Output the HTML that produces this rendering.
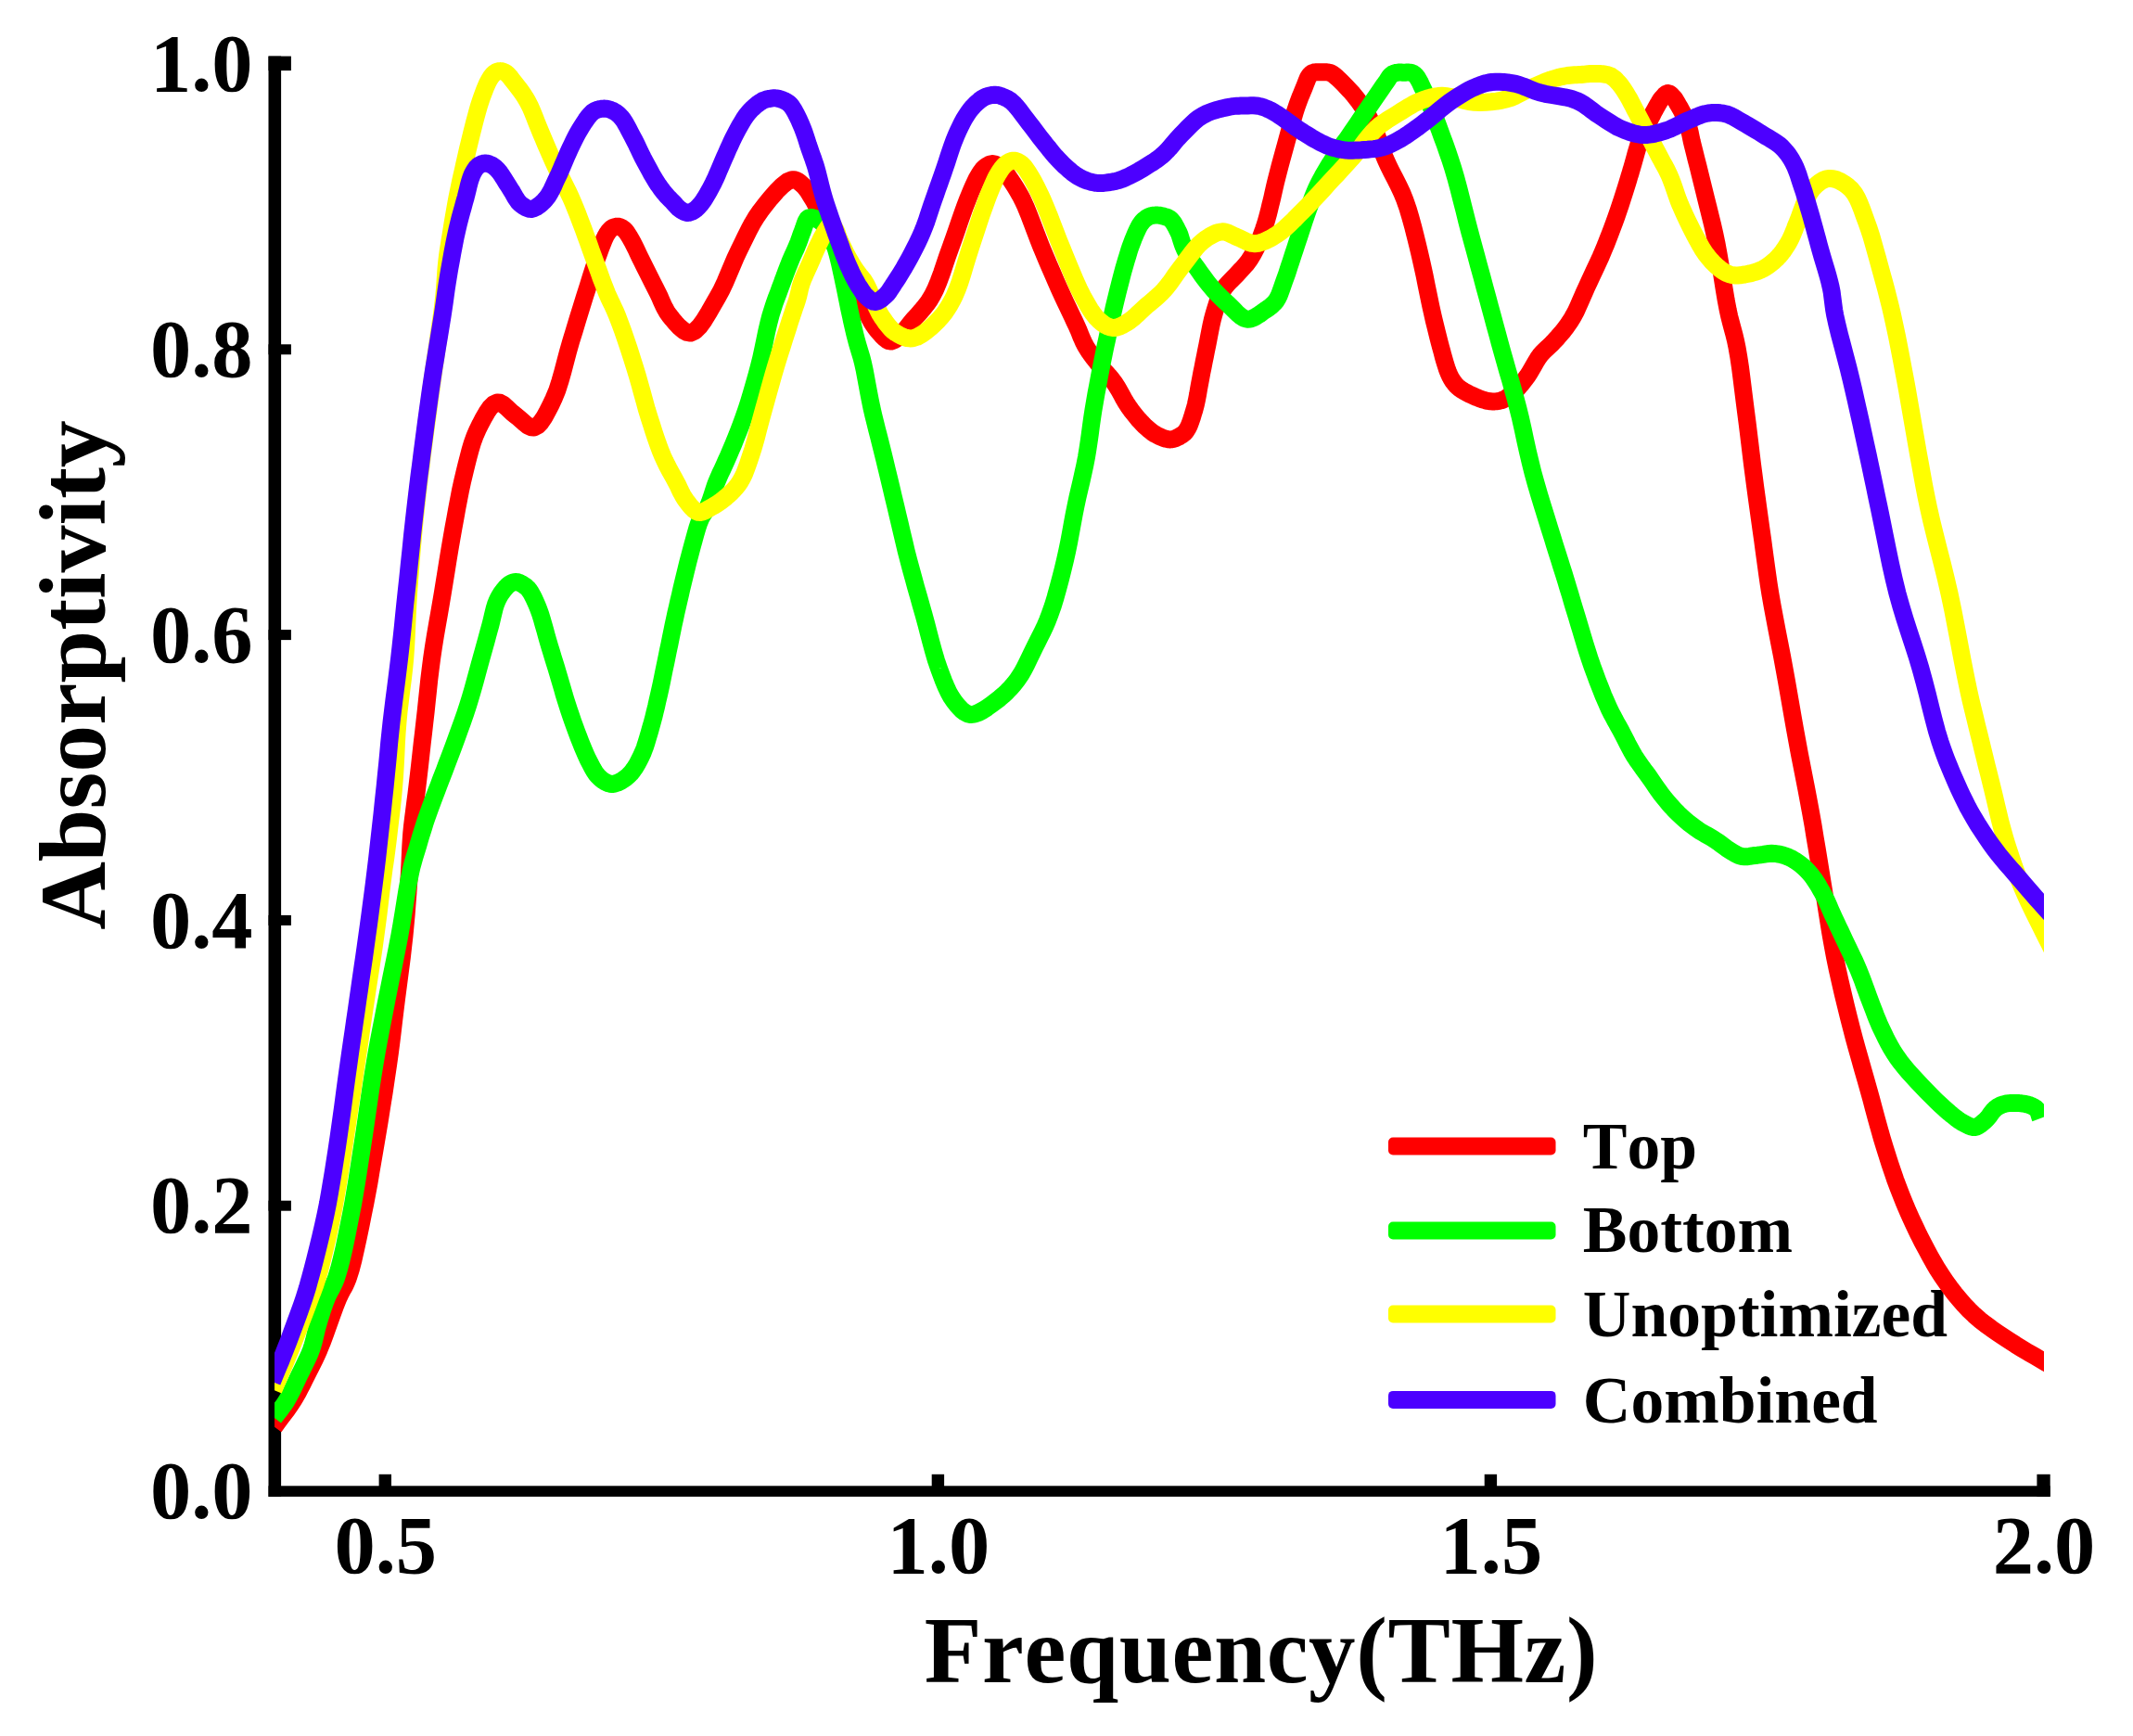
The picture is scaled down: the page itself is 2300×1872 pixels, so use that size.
<!DOCTYPE html>
<html><head><meta charset="utf-8"><title>Absorptivity</title>
<style>html,body{margin:0;padding:0;background:#fff}svg{display:block}</style>
</head><body>
<svg xmlns="http://www.w3.org/2000/svg" width="2300" height="1872" viewBox="0 0 2300 1872">
<defs><clipPath id="plot"><rect x="296.1" y="0" width="1907.9" height="1700"/></clipPath></defs>
<rect width="2300" height="1872" fill="#fff"/>
<g fill="#000">
<rect x="289.5" y="60.6" width="13.6" height="1553.3"/>
<rect x="289.5" y="1602.3" width="1921.2" height="11.6"/>
<rect x="289.5" y="60.6" width="24.4" height="15.5"/>
<rect x="289.5" y="371.3" width="24.4" height="11"/>
<rect x="289.5" y="679.1" width="24.4" height="11"/>
<rect x="289.5" y="986.9" width="24.4" height="11"/>
<rect x="289.5" y="1294.7" width="24.4" height="11"/>
<rect x="408.6" y="1589.8" width="13.4" height="20"/>
<rect x="1004.7" y="1589.8" width="13.4" height="20"/>
<rect x="1600.7" y="1589.8" width="13.4" height="20"/>
<rect x="2196.4" y="1589.8" width="14.3" height="24.1"/>
</g>
<g>
<rect x="1497" y="1226.5" width="180.5" height="19" rx="5" fill="#ff0000"/>
<rect x="1497" y="1317.5" width="180.5" height="19" rx="5" fill="#00ff00"/>
<rect x="1497" y="1407.5" width="180.5" height="19" rx="5" fill="#ffff00"/>
<rect x="1497" y="1499.9" width="180.5" height="19" rx="5" fill="#4c00ff"/>
</g>
<g font-family="'Liberation Serif','Times New Roman',serif" font-weight="bold" fill="#000" style="font-kerning:none" font-kerning="none">
<text x="1706.8" y="1260.0" font-size="71.5">Top</text>
<text x="1706.8" y="1349.8" font-size="71.5">Bottom</text>
<text x="1706.8" y="1441.3" font-size="71.5">Unoptimized</text>
<text x="1706.8" y="1533.8" font-size="71.5">Combined</text>
</g>
<g clip-path="url(#plot)" fill="none" stroke-width="19" stroke-linejoin="round" stroke-linecap="butt">
<path stroke="#ff0000" d="M295.8 1538.5 L299.2 1533.9 L302.7 1529.2 L306.2 1524.6 L309.6 1520.0 L312.9 1515.3 L316.0 1510.6 L318.7 1506.1 L321.3 1501.5 L323.7 1496.9 L326.1 1492.3 L328.4 1487.6 L330.7 1483.0 L333.0 1478.5 L335.2 1474.2 L337.4 1469.8 L339.6 1465.3 L341.8 1460.5 L344.1 1455.3 L347.5 1446.9 L351.0 1437.4 L354.6 1427.3 L358.2 1417.3 L361.6 1408.0 L364.8 1400.0 L366.7 1395.9 L368.5 1392.4 L370.3 1389.2 L372.0 1386.0 L373.7 1382.3 L375.4 1378.0 L378.3 1368.8 L381.1 1358.0 L383.8 1346.0 L386.5 1333.5 L389.1 1321.0 L391.5 1309.0 L393.8 1297.6 L395.9 1286.4 L398.0 1275.2 L399.9 1263.8 L401.9 1252.1 L404.0 1240.0 L406.5 1225.2 L409.1 1209.7 L411.6 1193.7 L414.2 1177.8 L416.5 1162.2 L418.7 1147.4 L420.4 1135.3 L421.9 1123.5 L423.3 1112.1 L424.6 1100.8 L426.0 1089.4 L427.4 1078.0 L428.9 1066.5 L430.4 1055.0 L431.9 1043.5 L433.4 1032.0 L434.7 1020.5 L436.0 1009.0 L437.1 997.3 L438.2 985.3 L439.1 973.4 L440.0 961.7 L440.8 950.5 L441.5 940.0 L441.9 932.6 L442.2 925.8 L442.5 919.2 L442.8 912.8 L443.2 906.2 L443.7 899.2 L444.5 891.0 L445.5 882.7 L446.6 874.1 L447.7 865.4 L448.9 856.5 L450.0 847.4 L451.3 836.4 L452.6 825.1 L453.9 813.4 L455.2 801.6 L456.6 789.8 L457.9 778.2 L459.2 766.8 L460.4 755.3 L461.6 743.9 L462.8 732.5 L464.2 721.1 L465.7 709.6 L467.4 697.9 L469.3 686.1 L471.3 674.3 L473.4 662.5 L475.4 650.8 L477.4 639.0 L479.3 627.2 L481.2 615.4 L483.1 603.6 L485.0 591.9 L487.0 580.3 L489.0 569.0 L490.9 558.8 L492.7 548.7 L494.6 538.7 L496.5 528.9 L498.6 519.3 L500.8 510.0 L502.8 501.7 L504.9 493.5 L507.0 485.5 L509.3 477.7 L512.0 470.3 L515.0 463.4 L518.0 457.3 L521.3 451.0 L524.8 444.9 L528.4 439.7 L532.2 435.8 L536.0 434.0 L539.2 434.3 L542.5 436.1 L545.8 438.9 L549.2 442.1 L552.6 445.3 L556.0 448.0 L559.3 450.6 L562.7 453.6 L566.1 456.6 L569.4 459.2 L572.7 460.8 L575.8 461.0 L579.6 459.1 L583.4 455.1 L587.0 449.7 L590.5 443.3 L593.9 436.6 L597.0 430.0 L600.7 421.1 L603.9 411.2 L606.9 400.7 L609.7 389.8 L612.6 378.8 L615.7 368.0 L619.3 356.4 L623.0 344.1 L626.8 331.8 L630.5 319.8 L634.0 308.8 L637.0 299.2 L638.6 294.1 L640.1 289.5 L641.5 285.3 L642.8 281.2 L644.1 277.3 L645.6 273.3 L647.0 269.5 L648.4 265.7 L649.9 261.9 L651.3 258.4 L652.8 255.2 L654.3 252.5 L655.2 251.1 L656.1 249.8 L657.0 248.6 L658.0 247.6 L658.9 246.8 L660.0 246.0 L661.0 245.4 L662.0 245.0 L663.1 244.6 L664.2 244.3 L665.3 244.2 L666.4 244.2 L667.5 244.4 L668.6 244.8 L669.8 245.3 L670.9 245.9 L672.0 246.7 L673.0 247.5 L674.3 248.8 L675.5 250.2 L676.6 251.9 L677.8 253.7 L679.0 255.6 L680.2 257.7 L682.1 261.1 L684.0 264.8 L686.0 268.9 L688.0 273.2 L690.1 277.6 L692.3 282.0 L695.0 287.5 L697.9 293.3 L700.9 299.3 L703.9 305.3 L706.9 311.1 L709.6 316.5 L711.6 320.7 L713.4 324.9 L715.2 328.9 L717.1 332.7 L719.2 336.5 L721.7 340.0 L724.9 344.0 L728.6 348.4 L732.5 352.6 L736.6 356.1 L740.7 358.4 L744.6 359.0 L749.5 356.8 L754.5 351.8 L759.4 344.9 L764.3 336.9 L769.0 328.6 L773.4 321.0 L777.8 313.0 L781.8 304.5 L785.6 295.6 L789.3 286.8 L793.0 278.0 L796.9 269.7 L800.5 262.3 L804.1 255.0 L807.7 247.8 L811.4 240.8 L815.5 234.0 L820.0 227.5 L825.2 220.7 L831.1 213.4 L837.2 206.4 L843.4 200.2 L849.1 195.8 L854.0 193.7 L856.3 193.7 L858.4 194.3 L860.4 195.4 L862.4 196.8 L864.2 198.4 L866.0 200.0 L867.9 201.9 L869.6 204.0 L871.3 206.3 L872.8 208.8 L874.4 211.4 L876.0 214.0 L877.9 217.2 L879.7 220.7 L881.6 224.3 L883.4 227.9 L885.2 231.5 L887.0 235.0 L888.7 238.2 L890.4 241.4 L892.0 244.5 L893.6 247.6 L895.3 250.8 L897.0 254.0 L898.8 257.4 L900.6 260.8 L902.5 264.2 L904.3 267.7 L906.2 271.2 L908.0 275.0 L910.2 279.7 L912.3 284.6 L914.5 289.6 L916.7 294.7 L918.8 299.9 L921.0 305.0 L923.2 310.2 L925.3 315.6 L927.4 320.9 L929.6 326.2 L931.7 331.3 L934.0 336.0 L935.9 339.7 L937.7 343.3 L939.6 346.8 L941.6 350.1 L943.7 353.1 L946.0 356.0 L948.2 358.6 L950.6 361.4 L953.1 364.0 L955.6 366.1 L958.3 367.6 L961.0 368.0 L964.9 366.6 L969.1 363.3 L973.5 358.7 L977.8 353.4 L982.1 348.1 L986.0 343.4 L989.5 339.6 L992.8 335.9 L996.0 332.1 L999.1 328.2 L1002.1 324.0 L1005.0 319.2 L1008.7 311.9 L1012.1 303.6 L1015.4 294.7 L1018.5 285.5 L1021.6 276.3 L1024.8 267.4 L1028.0 258.6 L1031.2 249.4 L1034.3 240.3 L1037.4 231.4 L1040.4 223.1 L1043.3 215.5 L1045.3 210.5 L1047.3 205.7 L1049.3 201.1 L1051.2 196.9 L1053.1 193.0 L1055.0 189.6 L1056.2 187.6 L1057.4 185.7 L1058.6 184.1 L1059.8 182.5 L1061.1 181.2 L1062.5 180.0 L1063.8 179.1 L1065.1 178.3 L1066.4 177.6 L1067.8 177.0 L1069.2 176.7 L1070.6 176.6 L1072.0 176.8 L1073.4 177.2 L1074.9 177.8 L1076.3 178.6 L1077.7 179.5 L1079.0 180.5 L1080.6 181.9 L1082.0 183.4 L1083.5 185.2 L1084.9 187.1 L1086.4 189.1 L1087.9 191.3 L1090.2 194.6 L1092.6 198.2 L1095.1 202.1 L1097.6 206.3 L1100.1 210.7 L1102.6 215.5 L1106.0 222.9 L1109.4 231.3 L1112.8 240.2 L1116.3 249.4 L1119.8 258.5 L1123.3 267.4 L1127.0 276.2 L1130.8 285.2 L1134.7 294.1 L1138.5 302.9 L1142.2 311.3 L1145.8 319.2 L1148.5 325.1 L1151.2 330.8 L1153.8 336.3 L1156.3 341.5 L1158.7 346.6 L1161.0 351.5 L1162.7 355.3 L1164.2 359.0 L1165.6 362.6 L1167.1 366.0 L1168.6 369.4 L1170.4 372.8 L1172.4 376.1 L1174.5 379.4 L1176.8 382.5 L1179.1 385.7 L1181.5 388.8 L1184.0 392.0 L1186.8 395.4 L1189.7 398.7 L1192.7 402.0 L1195.8 405.4 L1198.7 408.9 L1201.5 412.5 L1204.2 416.6 L1206.8 421.0 L1209.3 425.5 L1211.7 430.0 L1214.3 434.4 L1217.0 438.5 L1219.7 442.3 L1222.6 446.0 L1225.5 449.6 L1228.4 453.1 L1231.4 456.3 L1234.3 459.2 L1236.6 461.3 L1238.8 463.3 L1241.1 465.1 L1243.3 466.7 L1245.6 468.2 L1248.0 469.5 L1250.3 470.6 L1252.7 471.7 L1255.1 472.6 L1257.5 473.3 L1259.8 473.8 L1262.0 473.9 L1263.8 473.7 L1265.6 473.4 L1267.3 472.8 L1268.9 472.1 L1270.5 471.3 L1272.0 470.5 L1273.3 469.7 L1274.6 468.9 L1275.8 468.0 L1277.0 467.0 L1278.1 465.8 L1279.2 464.4 L1280.9 461.6 L1282.5 458.3 L1283.9 454.5 L1285.3 450.4 L1286.6 446.1 L1287.9 441.9 L1289.3 436.6 L1290.5 431.0 L1291.6 425.2 L1292.6 419.2 L1293.7 413.2 L1294.8 407.4 L1295.9 401.6 L1297.1 395.8 L1298.2 390.0 L1299.4 384.3 L1300.5 378.5 L1301.7 372.8 L1302.8 367.2 L1303.8 361.7 L1304.9 356.1 L1306.0 350.6 L1307.2 345.3 L1308.6 340.0 L1310.0 335.1 L1311.5 330.2 L1313.1 325.3 L1314.9 320.7 L1316.8 316.3 L1319.0 312.3 L1321.0 309.3 L1323.3 306.6 L1325.6 304.1 L1328.0 301.7 L1330.4 299.3 L1332.8 296.8 L1335.2 294.2 L1337.6 291.7 L1340.0 289.1 L1342.3 286.5 L1344.6 283.9 L1346.6 281.2 L1348.3 278.7 L1349.8 276.2 L1351.3 273.7 L1352.6 271.2 L1354.0 268.5 L1355.3 265.7 L1356.9 262.3 L1358.4 258.6 L1359.8 254.9 L1361.2 251.0 L1362.6 247.1 L1363.9 243.2 L1365.2 239.0 L1366.4 234.7 L1367.6 230.4 L1368.7 226.0 L1369.7 221.6 L1370.8 217.3 L1371.8 213.2 L1372.7 209.2 L1373.6 205.2 L1374.5 201.2 L1375.5 196.9 L1376.6 192.4 L1378.3 185.9 L1380.1 178.9 L1382.1 171.6 L1384.1 164.2 L1386.1 156.9 L1388.0 150.0 L1389.7 143.9 L1391.3 137.9 L1393.0 132.0 L1394.7 126.3 L1396.3 120.8 L1398.0 115.6 L1399.3 111.8 L1400.7 108.1 L1402.0 104.7 L1403.4 101.3 L1404.7 98.1 L1406.0 95.0 L1407.0 92.5 L1408.0 89.9 L1409.0 87.4 L1409.9 85.1 L1410.9 83.1 L1412.0 81.5 L1412.6 80.7 L1413.2 80.1 L1413.8 79.5 L1414.5 79.1 L1415.2 78.6 L1416.0 78.3 L1417.1 78.0 L1418.4 77.8 L1419.8 77.8 L1421.2 77.8 L1422.6 77.8 L1424.0 77.8 L1425.4 77.8 L1426.8 77.7 L1428.2 77.7 L1429.5 77.8 L1430.8 77.8 L1432.0 78.0 L1432.8 78.1 L1433.5 78.3 L1434.2 78.5 L1434.9 78.7 L1435.6 79.0 L1436.5 79.5 L1438.9 81.2 L1441.8 83.7 L1445.0 86.8 L1448.3 90.0 L1451.5 93.3 L1454.4 96.4 L1456.7 98.9 L1458.9 101.4 L1461.0 104.0 L1463.0 106.5 L1465.0 109.2 L1467.0 112.0 L1469.2 115.3 L1471.4 118.7 L1473.5 122.2 L1475.6 125.8 L1477.7 129.7 L1479.7 133.8 L1482.1 139.4 L1484.4 145.4 L1486.6 151.7 L1488.8 158.2 L1491.2 164.8 L1493.8 171.3 L1497.1 178.4 L1500.6 185.6 L1504.4 192.9 L1508.1 200.3 L1511.7 207.9 L1514.9 215.8 L1518.1 225.0 L1520.9 234.5 L1523.6 244.3 L1526.1 254.2 L1528.6 264.3 L1531.0 274.4 L1533.5 285.3 L1536.0 296.7 L1538.3 308.3 L1540.6 319.5 L1542.8 330.2 L1545.0 340.0 L1546.5 346.5 L1548.0 352.6 L1549.4 358.3 L1550.8 363.9 L1552.2 369.3 L1553.6 374.6 L1554.9 379.3 L1556.1 384.0 L1557.4 388.5 L1558.7 392.9 L1560.0 396.9 L1561.3 400.5 L1562.2 402.7 L1563.1 404.7 L1564.0 406.5 L1565.0 408.3 L1565.9 409.9 L1567.0 411.5 L1568.0 412.8 L1568.9 414.0 L1569.9 415.2 L1571.0 416.3 L1572.1 417.4 L1573.5 418.5 L1575.7 420.1 L1578.3 421.7 L1581.1 423.3 L1584.0 424.8 L1587.0 426.2 L1589.9 427.5 L1592.7 428.7 L1595.6 429.8 L1598.5 430.9 L1601.4 431.7 L1604.3 432.4 L1607.1 432.8 L1609.5 432.9 L1611.9 432.9 L1614.3 432.7 L1616.6 432.3 L1618.8 431.8 L1621.0 431.0 L1623.1 430.0 L1625.2 428.7 L1627.2 427.2 L1629.1 425.6 L1631.0 423.8 L1633.0 422.0 L1635.4 419.7 L1637.7 417.2 L1640.1 414.5 L1642.4 411.6 L1644.7 408.7 L1646.9 405.7 L1649.3 402.1 L1651.5 398.3 L1653.8 394.3 L1656.0 390.4 L1658.3 386.6 L1660.7 383.2 L1662.9 380.6 L1665.2 378.2 L1667.6 376.0 L1669.9 373.8 L1672.3 371.7 L1674.5 369.4 L1676.6 367.1 L1678.7 364.9 L1680.7 362.6 L1682.7 360.3 L1684.7 358.0 L1686.6 355.6 L1688.4 353.2 L1690.2 350.7 L1691.9 348.3 L1693.6 345.7 L1695.3 343.0 L1697.0 340.0 L1699.3 335.7 L1701.5 330.9 L1703.7 325.9 L1706.0 320.7 L1708.3 315.4 L1710.7 310.0 L1713.6 303.7 L1716.6 297.2 L1719.7 290.6 L1722.8 283.9 L1725.9 277.2 L1728.7 270.6 L1731.3 264.4 L1733.7 258.3 L1736.1 252.1 L1738.4 246.0 L1740.7 239.9 L1742.9 233.7 L1745.1 227.4 L1747.3 220.9 L1749.4 214.4 L1751.4 208.1 L1753.3 202.2 L1754.9 196.9 L1755.8 193.9 L1756.6 191.3 L1757.3 188.9 L1758.1 186.5 L1758.8 183.9 L1759.7 181.0 L1761.1 176.2 L1762.6 170.7 L1764.2 164.9 L1765.9 159.1 L1767.6 153.6 L1769.4 148.7 L1770.8 145.4 L1772.2 142.3 L1773.7 139.4 L1775.1 136.5 L1776.6 133.8 L1778.0 131.0 L1779.3 128.5 L1780.5 126.0 L1781.8 123.5 L1783.0 121.1 L1784.3 118.7 L1785.5 116.5 L1786.6 114.6 L1787.6 112.7 L1788.7 110.9 L1789.7 109.1 L1790.8 107.5 L1792.0 106.0 L1793.0 104.8 L1794.1 103.6 L1795.2 102.4 L1796.2 101.5 L1797.3 100.8 L1798.4 100.5 L1799.4 100.6 L1800.3 101.1 L1801.3 101.8 L1802.2 102.6 L1803.1 103.6 L1804.0 104.5 L1805.0 105.7 L1806.0 106.9 L1806.9 108.3 L1807.8 109.9 L1808.7 111.5 L1809.7 113.2 L1811.3 115.9 L1813.0 119.0 L1814.7 122.2 L1816.4 125.6 L1818.0 129.1 L1819.4 132.6 L1820.6 136.3 L1821.6 140.1 L1822.5 144.0 L1823.3 148.0 L1824.2 152.2 L1825.3 156.8 L1827.1 163.9 L1829.0 171.6 L1831.1 179.7 L1833.2 188.2 L1835.3 196.7 L1837.4 205.2 L1839.6 214.3 L1841.9 223.4 L1844.2 232.7 L1846.5 242.1 L1848.7 251.7 L1850.8 261.6 L1853.0 273.4 L1855.1 285.9 L1857.1 298.6 L1859.1 311.2 L1861.1 323.2 L1863.2 334.2 L1864.8 341.5 L1866.5 348.1 L1868.2 354.5 L1869.9 360.7 L1871.5 367.4 L1873.0 374.6 L1874.8 385.0 L1876.5 396.2 L1878.0 408.0 L1879.5 420.0 L1881.0 432.0 L1882.5 443.7 L1884.0 455.2 L1885.4 466.7 L1886.8 478.2 L1888.2 489.8 L1889.6 501.3 L1891.1 512.8 L1892.6 524.4 L1894.2 536.1 L1895.8 547.7 L1897.4 559.3 L1899.0 570.7 L1900.6 581.9 L1901.9 591.8 L1903.2 601.3 L1904.5 610.7 L1905.8 620.1 L1907.2 629.8 L1908.8 640.0 L1911.0 652.7 L1913.5 666.1 L1916.1 679.7 L1918.8 693.6 L1921.5 707.4 L1924.0 721.0 L1926.4 734.2 L1928.7 747.4 L1931.0 760.6 L1933.3 773.8 L1935.6 786.9 L1938.0 800.0 L1940.4 812.9 L1942.9 825.7 L1945.4 838.5 L1947.9 851.3 L1950.3 864.1 L1952.7 877.0 L1955.0 889.9 L1957.1 902.9 L1959.3 915.8 L1961.4 928.8 L1963.5 941.8 L1965.6 954.7 L1967.7 967.6 L1969.7 980.5 L1971.7 993.4 L1973.8 1006.3 L1976.1 1019.2 L1978.5 1032.0 L1981.2 1045.0 L1984.1 1058.0 L1987.1 1071.0 L1990.2 1083.9 L1993.3 1096.6 L1996.5 1109.0 L1999.4 1120.2 L2002.4 1131.1 L2005.5 1141.9 L2008.5 1152.6 L2011.6 1163.3 L2014.6 1174.0 L2017.6 1184.8 L2020.5 1195.7 L2023.4 1206.5 L2026.4 1217.3 L2029.4 1227.8 L2032.5 1238.0 L2035.3 1246.8 L2038.0 1255.4 L2040.9 1263.8 L2043.7 1272.1 L2046.8 1280.4 L2050.0 1288.7 L2053.5 1297.3 L2057.1 1305.9 L2060.9 1314.4 L2064.9 1322.9 L2068.9 1331.3 L2073.0 1339.4 L2077.0 1346.9 L2081.0 1354.4 L2085.1 1361.7 L2089.3 1368.8 L2093.8 1375.7 L2098.4 1382.5 L2103.0 1388.9 L2107.8 1395.1 L2112.8 1401.1 L2117.9 1407.0 L2123.2 1412.6 L2128.8 1418.0 L2134.7 1423.2 L2140.9 1428.0 L2147.3 1432.7 L2153.8 1437.2 L2160.4 1441.6 L2166.9 1445.9 L2173.4 1450.1 L2180.3 1454.3 L2187.2 1458.5 L2193.9 1462.3 L2199.9 1465.8 L2204.9 1468.7 L2207.1 1470.0 L2209.1 1471.1 L2210.9 1472.1 L2212.5 1473.1 L2214.2 1474.0 L2216.0 1475.0"/>
<path stroke="#00ff00" d="M295.5 1528.7 L297.8 1525.7 L300.0 1522.9 L302.3 1520.0 L304.5 1517.0 L306.8 1513.9 L308.9 1510.6 L311.3 1506.4 L313.7 1501.9 L316.0 1497.2 L318.2 1492.5 L320.5 1487.7 L322.7 1483.0 L325.0 1478.4 L327.3 1473.8 L329.5 1469.2 L331.7 1464.6 L333.8 1460.0 L335.6 1455.3 L337.1 1450.7 L338.4 1446.1 L339.5 1441.5 L340.6 1436.8 L341.7 1432.2 L343.0 1427.6 L344.4 1422.9 L345.9 1418.2 L347.3 1413.5 L348.9 1408.9 L350.5 1404.4 L352.2 1400.0 L353.8 1396.3 L355.6 1392.9 L357.3 1389.7 L359.1 1386.2 L360.9 1382.4 L362.6 1378.0 L365.4 1368.8 L368.2 1358.0 L371.0 1346.0 L373.6 1333.5 L376.1 1321.0 L378.5 1309.0 L380.7 1297.6 L382.6 1286.4 L384.5 1275.2 L386.3 1263.8 L388.1 1252.1 L390.0 1240.0 L392.3 1225.2 L394.6 1209.6 L396.9 1193.7 L399.2 1177.8 L401.6 1162.2 L404.0 1147.4 L406.1 1135.2 L408.2 1123.5 L410.4 1112.0 L412.6 1100.7 L414.8 1089.4 L417.0 1078.0 L419.3 1066.5 L421.6 1055.0 L424.0 1043.5 L426.3 1032.0 L428.6 1020.5 L430.8 1009.0 L432.9 997.2 L434.9 984.9 L436.9 972.6 L438.8 960.8 L440.8 949.8 L442.8 940.0 L444.1 934.4 L445.5 929.4 L446.8 924.7 L448.2 920.2 L449.6 915.7 L451.0 911.0 L452.4 906.2 L453.8 901.4 L455.3 896.6 L456.8 891.8 L458.3 887.0 L460.0 882.0 L462.0 876.3 L464.1 870.5 L466.3 864.7 L468.5 858.7 L470.8 852.8 L473.0 847.0 L475.1 841.4 L477.3 835.8 L479.4 830.3 L481.5 824.7 L483.7 818.9 L486.0 812.8 L489.0 804.8 L492.1 796.4 L495.3 787.6 L498.5 778.7 L501.6 769.8 L504.5 761.0 L507.2 752.3 L509.8 743.4 L512.3 734.4 L514.7 725.6 L517.0 717.1 L519.2 709.1 L520.9 702.9 L522.6 696.9 L524.2 691.1 L525.7 685.5 L527.2 680.0 L528.7 674.6 L529.9 669.9 L531.0 665.1 L532.1 660.5 L533.2 656.0 L534.5 651.8 L536.0 648.0 L537.3 645.2 L538.8 642.6 L540.3 640.1 L541.9 637.9 L543.5 635.8 L545.0 634.0 L546.0 632.9 L547.0 631.9 L548.0 631.0 L548.9 630.3 L550.0 629.6 L551.0 629.0 L552.0 628.5 L552.9 628.1 L553.9 627.8 L555.0 627.6 L556.0 627.5 L557.0 627.5 L558.2 627.7 L559.3 628.1 L560.5 628.6 L561.7 629.2 L562.9 629.8 L564.0 630.5 L565.1 631.2 L566.2 632.0 L567.3 632.8 L568.3 633.7 L569.4 634.7 L570.4 636.0 L572.2 638.6 L573.9 641.6 L575.7 645.1 L577.4 648.9 L579.1 652.8 L580.7 656.8 L582.6 662.0 L584.3 667.6 L586.0 673.5 L587.7 679.4 L589.3 685.4 L591.0 691.3 L592.7 697.1 L594.5 702.8 L596.2 708.6 L598.0 714.4 L599.8 720.1 L601.5 725.9 L603.2 731.7 L604.9 737.4 L606.6 743.2 L608.2 748.9 L610.0 754.7 L611.8 760.4 L613.7 766.2 L615.7 772.1 L617.7 778.0 L619.8 783.8 L621.9 789.5 L624.0 795.0 L625.9 799.9 L627.9 804.8 L629.9 809.6 L631.9 814.2 L633.9 818.6 L636.0 822.7 L637.6 825.7 L639.2 828.7 L640.8 831.5 L642.5 834.1 L644.4 836.4 L646.4 838.5 L648.4 840.2 L650.6 841.9 L652.9 843.3 L655.3 844.5 L657.8 845.2 L660.2 845.5 L663.0 845.1 L666.0 844.1 L669.0 842.7 L672.0 840.8 L674.9 838.7 L677.5 836.5 L680.2 833.8 L682.7 830.6 L685.1 827.2 L687.3 823.5 L689.3 819.6 L691.3 815.7 L693.4 811.0 L695.3 806.0 L697.0 800.8 L698.6 795.4 L700.2 790.0 L701.7 784.6 L703.3 779.0 L704.8 773.4 L706.2 767.6 L707.6 761.9 L708.9 756.0 L710.3 750.0 L711.8 743.3 L713.3 736.5 L714.7 729.5 L716.1 722.5 L717.6 715.5 L719.0 708.6 L720.4 701.7 L721.9 694.7 L723.3 687.7 L724.7 680.8 L726.1 673.9 L727.6 667.1 L729.0 660.6 L730.5 654.2 L731.9 647.9 L733.4 641.6 L734.8 635.3 L736.3 629.1 L737.7 623.2 L739.1 617.5 L740.5 611.7 L741.9 606.0 L743.4 600.3 L744.9 594.6 L746.5 588.6 L748.2 582.4 L749.9 576.3 L751.6 570.3 L753.4 564.8 L755.3 560.0 L756.6 557.3 L758.0 555.0 L759.4 552.9 L760.8 550.8 L762.2 548.6 L763.5 546.0 L765.1 542.1 L766.6 537.9 L768.1 533.4 L769.6 528.8 L771.1 524.2 L772.8 519.7 L774.7 515.2 L776.7 510.7 L778.8 506.3 L780.9 501.7 L783.0 497.0 L785.2 492.1 L787.9 485.8 L790.7 479.2 L793.5 472.3 L796.3 465.3 L799.1 458.0 L801.8 450.6 L804.8 441.9 L807.7 432.8 L810.5 423.5 L813.2 414.1 L815.9 404.6 L818.4 395.3 L820.7 386.0 L822.8 376.4 L824.8 366.8 L826.7 357.5 L828.8 348.5 L831.0 340.0 L833.0 333.6 L835.0 327.4 L837.1 321.5 L839.3 315.8 L841.3 310.3 L843.3 305.0 L844.8 300.8 L846.3 296.9 L847.7 293.0 L849.1 289.3 L850.6 285.6 L852.0 282.0 L853.3 278.8 L854.7 275.7 L856.1 272.6 L857.5 269.6 L858.8 266.6 L860.0 263.7 L861.0 261.2 L861.9 258.7 L862.8 256.2 L863.6 253.8 L864.5 251.4 L865.5 249.0 L866.4 246.4 L867.3 243.6 L868.3 240.8 L869.3 238.3 L870.5 236.3 L872.0 235.0 L873.6 234.6 L875.4 234.6 L877.3 235.0 L879.3 235.7 L881.2 236.5 L883.0 237.5 L884.9 238.9 L886.7 240.6 L888.4 242.6 L890.1 244.7 L891.6 246.9 L893.0 249.0 L894.2 251.1 L895.3 253.2 L896.3 255.4 L897.3 257.6 L898.1 259.8 L899.0 262.0 L899.8 263.9 L900.4 265.8 L901.1 267.6 L901.7 269.6 L902.3 271.7 L903.0 274.0 L904.1 278.3 L905.3 283.2 L906.5 288.6 L907.7 294.1 L908.9 299.7 L910.0 305.0 L911.1 310.2 L912.2 315.5 L913.2 320.7 L914.3 326.0 L915.3 331.2 L916.4 336.3 L917.5 341.2 L918.5 346.0 L919.6 350.8 L920.7 355.6 L921.8 360.3 L923.0 365.0 L924.2 369.4 L925.4 373.6 L926.7 377.9 L928.0 382.2 L929.3 386.7 L930.5 391.6 L932.1 398.8 L933.6 406.7 L935.1 414.9 L936.7 423.4 L938.3 431.8 L940.0 440.0 L941.8 447.8 L943.7 455.5 L945.6 463.2 L947.6 470.9 L949.6 478.8 L951.6 486.9 L953.9 496.3 L956.2 505.9 L958.6 515.8 L961.0 525.7 L963.3 535.7 L965.7 545.5 L968.0 555.3 L970.3 565.0 L972.6 574.8 L974.9 584.5 L977.2 594.3 L979.7 604.0 L982.3 613.8 L985.0 623.6 L987.7 633.4 L990.5 643.2 L993.2 652.9 L996.0 662.7 L998.7 672.6 L1001.3 682.7 L1004.0 692.9 L1006.7 702.7 L1009.5 712.2 L1012.5 721.0 L1015.0 727.7 L1017.5 734.3 L1020.1 740.5 L1022.8 746.4 L1025.8 751.7 L1029.0 756.4 L1031.6 759.7 L1034.3 762.8 L1037.2 765.7 L1040.1 768.0 L1043.2 769.7 L1046.5 770.5 L1050.6 770.1 L1055.1 768.5 L1059.8 766.0 L1064.6 762.9 L1069.2 759.6 L1073.5 756.4 L1077.8 753.1 L1081.9 749.6 L1085.9 745.8 L1089.8 741.7 L1093.5 737.5 L1097.0 733.0 L1100.6 727.7 L1103.9 722.0 L1106.9 716.1 L1109.9 709.9 L1112.8 703.8 L1115.7 697.8 L1118.6 692.1 L1121.4 686.5 L1124.2 680.9 L1126.9 675.2 L1129.5 669.2 L1132.0 662.7 L1135.1 653.9 L1138.0 644.4 L1140.8 634.4 L1143.5 624.2 L1146.1 614.0 L1148.5 604.0 L1150.7 594.2 L1152.7 584.4 L1154.5 574.6 L1156.3 564.8 L1158.1 555.1 L1160.0 545.5 L1161.9 536.6 L1163.9 527.8 L1166.0 519.0 L1167.9 510.4 L1169.8 501.7 L1171.5 493.0 L1172.9 484.5 L1174.2 475.9 L1175.4 467.4 L1176.5 458.9 L1177.7 450.4 L1179.0 441.9 L1180.5 433.2 L1182.0 424.4 L1183.7 415.6 L1185.3 406.9 L1186.9 398.5 L1188.5 390.5 L1189.8 384.2 L1191.0 378.2 L1192.2 372.3 L1193.5 366.6 L1194.7 360.8 L1196.0 355.0 L1197.3 349.1 L1198.6 343.3 L1199.9 337.5 L1201.2 331.6 L1202.6 325.8 L1204.0 320.0 L1205.4 314.2 L1206.9 308.3 L1208.4 302.5 L1209.9 296.7 L1211.4 291.0 L1213.0 285.5 L1214.4 280.6 L1215.9 275.8 L1217.3 271.1 L1218.8 266.6 L1220.4 262.2 L1222.0 258.0 L1223.4 254.6 L1224.8 251.3 L1226.3 248.1 L1227.8 245.1 L1229.3 242.3 L1231.0 240.0 L1232.2 238.5 L1233.5 237.2 L1234.9 236.1 L1236.2 235.1 L1237.6 234.2 L1239.0 233.5 L1240.2 233.0 L1241.5 232.6 L1242.7 232.4 L1244.0 232.2 L1245.2 232.1 L1246.5 232.0 L1247.7 232.0 L1249.0 232.1 L1250.2 232.2 L1251.5 232.4 L1252.8 232.7 L1254.0 233.0 L1255.4 233.4 L1256.7 233.7 L1258.1 234.2 L1259.4 234.7 L1260.8 235.4 L1262.0 236.3 L1263.6 237.9 L1265.2 240.0 L1266.6 242.3 L1268.0 244.8 L1269.3 247.4 L1270.6 250.0 L1271.9 252.9 L1272.9 256.1 L1273.9 259.3 L1274.9 262.5 L1276.1 265.8 L1277.5 269.0 L1279.4 272.5 L1281.6 276.0 L1283.9 279.5 L1286.3 283.0 L1288.8 286.5 L1291.3 289.9 L1293.8 293.4 L1296.3 297.0 L1298.9 300.5 L1301.5 303.9 L1304.2 307.3 L1306.9 310.6 L1309.6 313.7 L1312.4 316.6 L1315.3 319.5 L1318.2 322.3 L1321.1 325.1 L1324.2 327.9 L1327.5 331.1 L1330.9 334.5 L1334.3 338.0 L1337.9 341.0 L1341.4 343.2 L1344.9 344.3 L1348.1 344.1 L1351.4 342.9 L1354.7 341.1 L1358.0 339.0 L1361.0 336.8 L1363.9 334.8 L1366.2 333.3 L1368.4 331.7 L1370.5 330.1 L1372.4 328.4 L1374.3 326.5 L1376.0 324.4 L1377.8 321.5 L1379.4 318.3 L1380.7 314.8 L1382.0 311.1 L1383.3 307.4 L1384.6 303.7 L1386.1 299.6 L1387.6 295.3 L1389.0 291.0 L1390.4 286.6 L1391.9 282.2 L1393.3 277.8 L1394.7 273.5 L1396.2 269.1 L1397.6 264.8 L1399.0 260.5 L1400.5 256.1 L1401.9 251.8 L1403.3 247.5 L1404.7 243.2 L1406.1 238.8 L1407.6 234.5 L1409.1 230.2 L1410.6 225.9 L1412.2 221.6 L1413.8 217.3 L1415.4 213.0 L1417.1 208.7 L1419.0 204.3 L1421.0 200.0 L1423.4 195.2 L1426.0 190.4 L1428.8 185.6 L1431.6 180.8 L1434.5 176.0 L1437.5 171.3 L1440.5 166.7 L1443.7 162.1 L1446.9 157.6 L1450.1 153.0 L1453.4 148.5 L1456.7 143.8 L1460.2 138.7 L1463.7 133.5 L1467.3 128.2 L1470.9 122.9 L1474.4 117.8 L1477.8 112.8 L1480.9 108.3 L1484.0 103.8 L1487.1 99.3 L1490.1 95.0 L1492.7 91.2 L1495.0 88.0 L1496.0 86.5 L1496.8 85.2 L1497.6 84.0 L1498.3 82.9 L1499.1 81.9 L1500.0 81.0 L1500.8 80.4 L1501.5 79.9 L1502.3 79.4 L1503.2 79.1 L1504.0 78.8 L1505.0 78.5 L1506.3 78.3 L1507.8 78.1 L1509.3 78.1 L1510.9 78.1 L1512.5 78.2 L1514.0 78.2 L1515.4 78.2 L1516.8 78.1 L1518.2 78.1 L1519.5 78.1 L1520.8 78.2 L1522.0 78.5 L1522.9 78.9 L1523.8 79.3 L1524.6 79.8 L1525.4 80.4 L1526.2 81.1 L1527.0 82.0 L1528.4 83.8 L1529.7 86.1 L1531.1 88.6 L1532.4 91.4 L1533.7 94.2 L1535.0 96.9 L1536.4 99.8 L1537.8 102.8 L1539.1 105.8 L1540.4 108.8 L1541.7 111.9 L1543.0 115.0 L1544.2 118.0 L1545.3 120.9 L1546.4 123.8 L1547.5 126.9 L1548.7 130.2 L1550.0 133.8 L1552.4 140.3 L1555.0 147.5 L1557.9 155.2 L1560.8 163.5 L1563.7 172.0 L1566.5 180.6 L1569.7 191.5 L1572.8 203.0 L1575.8 214.9 L1578.9 227.0 L1581.9 239.1 L1585.0 251.0 L1588.2 262.8 L1591.4 274.6 L1594.6 286.4 L1597.8 298.1 L1600.9 309.7 L1604.0 321.0 L1606.7 331.1 L1609.4 341.0 L1612.0 350.8 L1614.7 360.5 L1617.3 370.2 L1620.0 380.0 L1622.8 389.9 L1625.6 399.8 L1628.5 409.7 L1631.3 419.6 L1634.1 429.7 L1636.8 440.0 L1639.6 451.3 L1642.2 462.9 L1644.7 474.7 L1647.3 486.5 L1650.1 498.3 L1653.0 510.0 L1656.3 521.9 L1659.8 533.9 L1663.5 546.0 L1667.2 557.8 L1670.7 569.2 L1674.1 580.0 L1676.6 588.2 L1679.1 596.1 L1681.5 603.7 L1683.8 611.1 L1686.2 618.5 L1688.5 626.1 L1690.8 633.8 L1693.2 641.5 L1695.4 649.2 L1697.7 656.8 L1700.1 664.5 L1702.4 672.2 L1704.7 679.9 L1707.0 687.6 L1709.3 695.2 L1711.7 702.9 L1714.2 710.6 L1716.8 718.2 L1719.7 726.1 L1722.7 734.2 L1725.9 742.3 L1729.0 750.2 L1732.2 757.6 L1735.2 764.3 L1737.3 768.7 L1739.4 772.6 L1741.4 776.4 L1743.4 780.0 L1745.5 783.7 L1747.6 787.6 L1750.0 792.1 L1752.4 796.8 L1754.8 801.6 L1757.3 806.3 L1759.8 810.9 L1762.4 815.3 L1764.9 819.2 L1767.5 822.9 L1770.1 826.6 L1772.7 830.2 L1775.4 833.8 L1778.0 837.4 L1780.6 841.1 L1783.1 844.8 L1785.7 848.6 L1788.3 852.3 L1790.9 855.9 L1793.7 859.5 L1796.6 863.0 L1799.6 866.6 L1802.7 870.1 L1805.8 873.4 L1809.0 876.7 L1812.2 879.8 L1815.2 882.5 L1818.2 885.1 L1821.3 887.7 L1824.4 890.1 L1827.5 892.4 L1830.6 894.6 L1833.6 896.6 L1836.7 898.4 L1839.8 900.2 L1842.9 901.9 L1845.9 903.7 L1849.0 905.6 L1852.2 907.7 L1855.3 910.0 L1858.5 912.4 L1861.6 914.7 L1864.7 916.7 L1867.5 918.5 L1869.4 919.6 L1871.2 920.7 L1873.0 921.6 L1874.7 922.4 L1876.5 923.0 L1878.5 923.5 L1881.0 923.7 L1883.7 923.7 L1886.5 923.4 L1889.4 922.9 L1892.2 922.5 L1895.1 922.2 L1898.1 921.8 L1901.2 921.4 L1904.3 920.9 L1907.4 920.5 L1910.4 920.3 L1913.5 920.4 L1916.6 920.8 L1919.8 921.4 L1922.9 922.2 L1926.0 923.2 L1929.0 924.5 L1932.0 925.9 L1935.2 927.8 L1938.5 929.9 L1941.6 932.3 L1944.7 934.9 L1947.6 937.7 L1950.4 940.6 L1953.2 943.9 L1955.8 947.4 L1958.3 951.1 L1960.7 954.9 L1962.9 958.8 L1965.2 962.8 L1967.5 967.2 L1969.7 971.7 L1971.8 976.4 L1973.8 981.1 L1975.9 985.8 L1978.0 990.4 L1980.2 995.0 L1982.3 999.6 L1984.5 1004.2 L1986.7 1008.8 L1988.8 1013.4 L1991.0 1018.0 L1993.2 1022.6 L1995.3 1027.1 L1997.5 1031.6 L1999.7 1036.2 L2001.8 1040.9 L2003.9 1045.7 L2006.1 1051.2 L2008.3 1056.9 L2010.4 1062.8 L2012.6 1068.6 L2014.7 1074.4 L2016.8 1080.0 L2018.7 1085.0 L2020.6 1089.9 L2022.4 1094.7 L2024.3 1099.4 L2026.3 1104.2 L2028.5 1109.0 L2031.0 1114.2 L2033.5 1119.4 L2036.2 1124.6 L2039.1 1129.8 L2042.2 1135.0 L2045.5 1140.0 L2049.4 1145.3 L2053.6 1150.6 L2058.0 1155.8 L2062.6 1160.9 L2067.3 1166.0 L2072.0 1171.0 L2076.9 1176.1 L2082.1 1181.4 L2087.3 1186.6 L2092.5 1191.5 L2097.4 1196.0 L2102.0 1200.0 L2104.9 1202.4 L2107.7 1204.6 L2110.3 1206.6 L2112.9 1208.5 L2115.5 1210.1 L2118.0 1211.5 L2120.0 1212.5 L2121.9 1213.6 L2123.8 1214.4 L2125.7 1215.1 L2127.5 1215.5 L2129.4 1215.5 L2131.4 1215.0 L2133.4 1214.0 L2135.3 1212.8 L2137.3 1211.2 L2139.2 1209.6 L2141.0 1208.0 L2142.9 1206.0 L2144.8 1203.7 L2146.5 1201.3 L2148.3 1198.9 L2150.1 1196.8 L2152.0 1195.0 L2153.6 1193.9 L2155.2 1192.9 L2156.8 1192.1 L2158.5 1191.4 L2160.2 1190.8 L2162.0 1190.3 L2164.0 1189.9 L2166.2 1189.6 L2168.4 1189.4 L2170.6 1189.4 L2172.8 1189.4 L2175.0 1189.5 L2177.2 1189.6 L2179.5 1189.8 L2181.7 1190.1 L2183.9 1190.4 L2186.0 1190.9 L2188.0 1191.5 L2189.6 1192.1 L2191.2 1192.8 L2192.7 1193.5 L2194.1 1194.4 L2195.4 1195.4 L2196.5 1196.5 L2197.4 1197.8 L2198.1 1199.3 L2198.7 1201.0 L2199.2 1202.7 L2199.7 1204.4 L2200.3 1206.0"/>
<path stroke="#ffff00" d="M294.9 1498.8 L297.9 1491.6 L301.0 1484.5 L304.0 1477.4 L307.1 1470.2 L310.1 1462.9 L313.2 1455.3 L316.8 1446.2 L320.6 1436.5 L324.4 1426.5 L328.1 1416.8 L331.5 1407.9 L334.4 1400.0 L335.9 1395.9 L337.3 1392.4 L338.5 1389.2 L339.7 1385.9 L340.9 1382.3 L342.2 1378.0 L344.8 1368.8 L347.6 1357.9 L350.5 1346.0 L353.4 1333.5 L356.1 1321.0 L358.6 1309.0 L360.8 1297.6 L362.8 1286.4 L364.7 1275.2 L366.5 1263.8 L368.3 1252.1 L370.2 1240.0 L372.5 1225.2 L374.9 1209.7 L377.3 1193.7 L379.7 1177.8 L382.0 1162.2 L384.2 1147.4 L386.0 1135.3 L387.8 1123.5 L389.4 1112.1 L391.1 1100.7 L392.8 1089.4 L394.5 1078.0 L396.2 1066.5 L398.0 1055.0 L399.8 1043.5 L401.6 1032.0 L403.3 1020.5 L404.9 1009.0 L406.5 997.1 L408.1 984.7 L409.6 972.2 L411.0 960.3 L412.4 949.4 L413.6 940.0 L414.2 935.5 L414.8 931.7 L415.3 928.3 L415.8 924.8 L416.3 921.0 L416.9 916.5 L418.1 907.1 L419.4 896.2 L420.8 884.2 L422.3 871.8 L423.6 859.4 L424.7 847.4 L425.6 835.9 L426.3 824.3 L426.9 812.8 L427.4 801.3 L428.1 789.7 L429.0 778.2 L430.1 766.7 L431.5 755.2 L432.9 743.6 L434.4 732.1 L435.7 720.6 L436.8 709.1 L437.6 697.7 L438.2 686.4 L438.7 675.2 L439.2 663.8 L439.8 652.1 L440.5 640.0 L441.6 625.2 L442.8 609.6 L444.1 593.7 L445.5 577.8 L447.0 562.2 L448.5 547.4 L449.8 535.3 L451.2 523.6 L452.6 512.2 L454.1 500.9 L455.5 489.6 L457.0 478.2 L458.5 466.7 L460.0 455.2 L461.6 443.6 L463.1 432.1 L464.7 420.6 L466.3 409.1 L468.0 397.2 L469.8 384.7 L471.7 372.2 L473.4 360.3 L475.0 349.4 L476.3 340.0 L476.9 335.5 L477.4 331.6 L477.8 328.0 L478.2 324.6 L478.6 321.0 L479.0 317.0 L479.5 311.6 L479.9 305.9 L480.3 299.9 L480.7 293.9 L481.2 287.9 L481.8 282.0 L482.5 276.2 L483.3 270.4 L484.2 264.7 L485.1 258.9 L486.1 253.2 L487.0 247.4 L487.9 241.6 L488.9 235.9 L489.9 230.1 L490.9 224.3 L491.9 218.6 L493.0 212.8 L494.2 207.0 L495.4 201.3 L496.6 195.5 L497.9 189.7 L499.2 184.0 L500.5 178.2 L501.8 172.4 L503.1 166.7 L504.4 160.9 L505.8 155.2 L507.2 149.4 L508.6 143.7 L510.1 137.8 L511.6 131.9 L513.2 125.9 L514.8 120.0 L516.4 114.4 L518.1 109.1 L519.5 105.0 L521.0 100.9 L522.5 97.0 L524.0 93.3 L525.5 89.9 L527.0 87.0 L528.0 85.3 L528.9 83.8 L529.9 82.3 L530.9 81.1 L531.9 80.0 L533.0 79.0 L534.0 78.3 L535.0 77.7 L536.1 77.3 L537.2 76.9 L538.3 76.7 L539.4 76.6 L540.5 76.7 L541.6 76.9 L542.7 77.3 L543.9 77.7 L544.9 78.3 L546.0 79.0 L547.2 80.0 L548.3 81.1 L549.4 82.4 L550.6 83.8 L551.7 85.3 L553.0 87.0 L555.3 89.9 L557.9 93.3 L560.7 96.9 L563.5 100.8 L566.2 104.9 L568.7 109.1 L571.4 114.3 L573.9 120.0 L576.3 125.8 L578.6 131.8 L581.0 137.8 L583.4 143.7 L585.9 149.5 L588.3 155.2 L590.8 161.0 L593.3 166.7 L595.9 172.5 L598.5 178.2 L601.3 184.0 L604.1 189.7 L607.0 195.5 L609.9 201.2 L612.7 207.0 L615.4 212.8 L617.9 218.5 L620.3 224.3 L622.6 230.1 L624.8 235.8 L627.0 241.6 L629.2 247.4 L631.3 253.2 L633.4 258.9 L635.5 264.7 L637.5 270.5 L639.6 276.2 L641.7 282.0 L643.8 287.8 L646.0 293.8 L648.1 299.7 L650.3 305.5 L652.5 311.2 L654.6 316.5 L656.4 320.6 L658.1 324.3 L659.9 327.9 L661.6 331.6 L663.4 335.5 L665.3 340.0 L668.3 347.8 L671.5 356.6 L674.8 366.1 L678.1 375.9 L681.3 385.8 L684.3 395.3 L687.1 404.6 L689.8 414.0 L692.4 423.4 L695.0 432.8 L697.5 441.9 L700.2 450.6 L702.6 458.0 L704.9 465.3 L707.2 472.3 L709.6 479.2 L712.1 485.8 L714.7 492.1 L717.0 497.1 L719.4 502.0 L721.8 506.6 L724.3 511.1 L726.7 515.4 L729.0 519.7 L730.9 523.3 L732.6 527.0 L734.3 530.5 L736.1 533.9 L737.9 537.0 L740.0 540.0 L742.0 542.6 L744.0 545.2 L746.2 547.7 L748.4 549.8 L750.7 551.4 L753.0 552.3 L755.2 552.4 L757.5 551.9 L759.9 550.9 L762.3 549.7 L764.6 548.3 L767.0 547.0 L769.7 545.5 L772.4 543.9 L775.1 542.1 L777.8 540.2 L780.4 538.1 L783.0 536.0 L785.7 533.6 L788.3 531.2 L790.9 528.6 L793.4 525.9 L795.8 522.9 L798.0 519.7 L800.4 515.4 L802.6 510.8 L804.5 505.8 L806.4 500.7 L808.2 495.4 L810.0 490.0 L812.0 483.9 L813.8 477.6 L815.6 471.1 L817.3 464.5 L819.1 457.6 L821.0 450.6 L823.4 441.8 L826.0 432.5 L828.6 423.0 L831.3 413.4 L833.9 404.1 L836.5 395.3 L838.7 388.0 L841.0 380.7 L843.3 373.5 L845.4 366.7 L847.4 360.5 L849.2 355.0 L850.1 352.1 L850.9 349.5 L851.7 347.1 L852.4 344.8 L853.2 342.5 L854.0 340.0 L855.0 337.1 L856.0 334.1 L857.0 331.1 L858.1 328.0 L859.1 325.0 L860.0 322.0 L860.8 319.2 L861.4 316.4 L862.1 313.6 L862.7 310.8 L863.5 307.9 L864.4 305.0 L865.7 301.4 L867.3 297.8 L868.9 294.1 L870.7 290.3 L872.4 286.6 L874.0 283.0 L875.4 279.7 L876.8 276.4 L878.2 273.1 L879.6 269.9 L881.0 266.8 L882.5 263.7 L883.9 260.9 L885.3 258.0 L886.7 255.2 L888.2 252.6 L889.6 250.1 L891.0 248.0 L891.9 246.6 L892.9 245.3 L893.8 244.0 L894.7 242.9 L895.6 242.2 L896.5 242.0 L897.3 242.3 L898.1 243.1 L898.9 244.1 L899.6 245.4 L900.3 246.7 L901.0 248.0 L901.7 249.5 L902.4 251.1 L902.9 252.8 L903.5 254.6 L904.2 256.5 L905.0 258.5 L906.5 261.7 L908.2 265.3 L910.1 269.2 L912.0 273.0 L914.0 276.7 L915.8 280.0 L917.2 282.4 L918.5 284.6 L919.9 286.8 L921.2 288.9 L922.6 290.9 L924.0 293.0 L925.5 295.0 L927.0 297.0 L928.6 298.9 L930.1 300.8 L931.6 302.8 L933.0 305.0 L934.4 307.6 L935.8 310.3 L937.1 313.2 L938.3 316.1 L939.6 319.0 L941.0 322.0 L942.5 325.3 L944.1 328.7 L945.6 332.1 L947.3 335.5 L949.0 338.8 L951.0 342.0 L953.2 345.1 L955.4 348.3 L957.9 351.4 L960.4 354.3 L963.1 356.9 L966.0 359.0 L968.8 360.7 L971.7 362.3 L974.8 363.6 L978.0 364.5 L981.2 364.9 L984.4 364.7 L988.9 363.3 L993.7 360.7 L998.6 357.3 L1003.4 353.3 L1007.9 349.1 L1012.0 345.0 L1015.4 341.2 L1018.5 337.3 L1021.3 333.2 L1024.0 328.9 L1026.6 324.2 L1029.1 319.2 L1032.3 311.7 L1035.3 303.4 L1038.1 294.6 L1040.8 285.4 L1043.6 276.3 L1046.4 267.4 L1049.3 258.6 L1052.3 249.5 L1055.3 240.4 L1058.2 231.5 L1061.2 223.2 L1064.0 215.5 L1066.0 210.2 L1068.0 205.2 L1070.0 200.4 L1072.0 195.9 L1073.9 191.7 L1076.0 188.0 L1077.5 185.6 L1078.9 183.4 L1080.4 181.3 L1081.9 179.5 L1083.4 177.9 L1085.0 176.5 L1086.3 175.6 L1087.6 174.8 L1088.9 174.1 L1090.3 173.6 L1091.7 173.3 L1093.0 173.2 L1094.3 173.3 L1095.7 173.6 L1097.1 174.1 L1098.4 174.8 L1099.7 175.6 L1101.0 176.5 L1102.6 177.9 L1104.1 179.5 L1105.6 181.4 L1107.0 183.4 L1108.5 185.6 L1110.0 188.0 L1112.3 191.7 L1114.6 195.9 L1117.0 200.4 L1119.3 205.2 L1121.8 210.2 L1124.2 215.5 L1127.5 223.2 L1130.9 231.5 L1134.3 240.4 L1137.8 249.5 L1141.3 258.6 L1144.9 267.4 L1148.5 276.3 L1152.2 285.4 L1156.0 294.5 L1159.8 303.4 L1163.6 311.7 L1167.4 319.2 L1170.2 324.3 L1173.0 329.2 L1175.7 333.8 L1178.6 338.0 L1181.5 341.8 L1184.6 345.0 L1187.0 347.1 L1189.6 349.1 L1192.1 350.8 L1194.8 352.1 L1197.4 353.0 L1200.0 353.5 L1202.5 353.4 L1204.9 352.9 L1207.4 352.0 L1209.9 350.9 L1212.4 349.5 L1215.0 348.0 L1218.5 345.7 L1222.1 342.8 L1225.8 339.5 L1229.4 336.1 L1233.0 332.8 L1236.5 329.6 L1239.7 326.9 L1242.9 324.2 L1246.0 321.6 L1249.0 318.9 L1252.0 316.1 L1255.0 313.0 L1258.2 309.3 L1261.2 305.4 L1264.2 301.2 L1267.1 297.0 L1270.2 292.7 L1273.4 288.5 L1277.1 283.6 L1280.9 278.5 L1284.8 273.3 L1288.8 268.3 L1292.8 263.8 L1297.0 260.0 L1300.4 257.4 L1303.9 255.1 L1307.5 253.1 L1311.1 251.4 L1314.6 250.3 L1318.0 249.8 L1320.8 250.0 L1323.4 250.8 L1326.0 251.9 L1328.6 253.2 L1331.3 254.5 L1334.0 255.7 L1337.1 257.0 L1340.1 258.5 L1343.3 260.1 L1346.5 261.4 L1349.7 262.4 L1353.0 262.7 L1356.8 262.3 L1360.7 261.2 L1364.7 259.6 L1368.7 257.7 L1372.7 255.4 L1376.6 253.0 L1381.3 249.7 L1386.0 245.8 L1390.6 241.5 L1395.3 237.0 L1400.0 232.2 L1404.7 227.5 L1410.2 222.0 L1415.7 216.1 L1421.4 210.0 L1426.9 204.0 L1432.3 198.0 L1437.5 192.4 L1441.7 187.9 L1445.7 183.6 L1449.6 179.4 L1453.4 175.2 L1457.2 171.0 L1461.0 166.6 L1464.8 161.9 L1468.6 157.0 L1472.3 152.0 L1476.1 147.2 L1480.0 142.6 L1484.0 138.5 L1487.8 135.2 L1491.7 132.3 L1495.7 129.6 L1499.8 127.0 L1503.9 124.5 L1507.9 122.0 L1511.7 119.6 L1515.5 117.2 L1519.3 114.9 L1523.2 112.7 L1527.0 110.7 L1531.0 109.0 L1534.8 107.5 L1538.7 106.2 L1542.6 105.1 L1546.6 104.2 L1550.7 103.6 L1555.0 103.3 L1560.4 103.7 L1566.2 104.9 L1572.1 106.5 L1578.1 108.2 L1584.1 109.6 L1590.0 110.3 L1595.9 110.4 L1602.0 110.3 L1608.0 109.8 L1613.9 109.1 L1619.6 108.1 L1625.0 106.8 L1629.3 105.4 L1633.3 103.7 L1637.1 101.8 L1640.9 99.8 L1644.6 97.8 L1648.5 96.0 L1652.4 94.2 L1656.4 92.4 L1660.4 90.6 L1664.4 88.9 L1668.2 87.4 L1672.0 86.0 L1675.1 85.0 L1678.2 84.1 L1681.2 83.3 L1684.2 82.6 L1687.1 82.0 L1690.0 81.5 L1692.6 81.2 L1695.2 81.0 L1697.7 80.8 L1700.2 80.7 L1702.6 80.6 L1705.0 80.5 L1706.9 80.3 L1708.8 80.1 L1710.6 79.9 L1712.4 79.7 L1714.2 79.6 L1716.0 79.5 L1718.0 79.4 L1720.0 79.4 L1722.1 79.4 L1724.1 79.5 L1726.1 79.6 L1728.0 79.8 L1729.6 80.0 L1731.2 80.2 L1732.7 80.5 L1734.2 80.9 L1735.6 81.4 L1737.0 82.0 L1738.4 82.9 L1739.8 83.9 L1741.2 85.0 L1742.5 86.3 L1743.7 87.6 L1745.0 89.0 L1746.4 90.6 L1747.8 92.3 L1749.1 94.2 L1750.5 96.1 L1751.8 98.1 L1753.2 100.3 L1755.1 103.5 L1757.1 106.9 L1759.0 110.6 L1761.0 114.4 L1763.0 118.3 L1765.0 122.0 L1767.0 125.8 L1769.0 129.6 L1771.0 133.5 L1773.0 137.3 L1775.0 141.2 L1777.0 145.0 L1779.0 148.8 L1781.0 152.7 L1783.0 156.6 L1785.0 160.4 L1787.0 164.2 L1789.0 168.0 L1790.9 171.5 L1792.7 174.9 L1794.6 178.2 L1796.4 181.6 L1798.2 185.2 L1800.0 189.0 L1802.0 193.9 L1804.0 199.2 L1805.9 204.7 L1807.8 210.3 L1809.8 215.9 L1812.0 221.3 L1814.4 226.8 L1817.0 232.4 L1819.6 238.0 L1822.3 243.5 L1824.9 248.7 L1827.4 253.5 L1829.2 257.0 L1831.0 260.2 L1832.7 263.4 L1834.4 266.3 L1836.1 269.2 L1838.0 272.0 L1839.7 274.4 L1841.5 276.7 L1843.4 279.0 L1845.2 281.1 L1847.1 283.1 L1849.0 285.0 L1850.6 286.6 L1852.3 288.0 L1853.9 289.4 L1855.6 290.7 L1857.3 291.9 L1859.0 293.0 L1860.6 293.9 L1862.2 294.7 L1863.8 295.4 L1865.5 296.0 L1867.2 296.5 L1869.0 296.8 L1871.3 297.0 L1873.7 297.0 L1876.3 296.8 L1878.8 296.4 L1881.4 296.0 L1884.0 295.5 L1886.8 294.9 L1889.7 294.2 L1892.6 293.4 L1895.4 292.5 L1898.2 291.3 L1901.0 290.0 L1904.0 288.3 L1907.0 286.2 L1909.9 284.0 L1912.8 281.6 L1915.5 279.1 L1918.0 276.5 L1920.3 273.8 L1922.5 271.0 L1924.5 268.1 L1926.5 265.1 L1928.3 262.1 L1930.0 259.0 L1931.5 256.0 L1932.8 253.0 L1934.0 250.0 L1935.3 246.8 L1936.5 243.5 L1938.0 240.0 L1940.2 234.4 L1942.5 228.0 L1945.0 221.2 L1947.7 214.7 L1950.7 208.8 L1954.0 204.0 L1956.8 201.1 L1959.7 198.4 L1962.8 196.0 L1966.1 194.2 L1969.4 192.9 L1972.7 192.4 L1976.5 192.7 L1980.6 193.8 L1984.7 195.7 L1988.8 198.1 L1992.6 200.9 L1996.0 204.0 L1999.6 208.4 L2002.6 213.7 L2005.3 219.7 L2007.8 226.0 L2010.1 232.5 L2012.5 239.0 L2015.1 246.3 L2017.6 253.9 L2019.9 261.8 L2022.1 269.8 L2024.4 277.9 L2026.6 286.0 L2029.0 294.7 L2031.4 303.4 L2033.8 312.3 L2036.1 321.3 L2038.4 330.5 L2040.6 340.0 L2043.0 351.0 L2045.4 362.3 L2047.7 373.9 L2050.0 385.7 L2052.2 397.4 L2054.4 409.0 L2056.5 420.5 L2058.5 432.1 L2060.5 443.6 L2062.5 455.1 L2064.5 466.7 L2066.5 478.2 L2068.5 489.6 L2070.6 500.9 L2072.6 512.2 L2074.7 523.6 L2077.0 535.3 L2079.5 547.4 L2082.8 562.0 L2086.5 577.1 L2090.4 592.5 L2094.4 608.2 L2098.3 624.1 L2102.0 640.0 L2105.7 657.4 L2109.2 675.6 L2112.7 694.0 L2116.1 712.0 L2119.5 729.1 L2122.7 744.7 L2125.0 755.0 L2127.3 764.5 L2129.5 773.6 L2131.6 782.4 L2133.8 791.1 L2136.0 800.0 L2138.1 808.7 L2140.2 817.3 L2142.3 825.9 L2144.5 834.5 L2146.6 843.0 L2148.7 851.6 L2150.8 860.2 L2152.8 868.8 L2154.8 877.3 L2156.9 885.9 L2159.2 894.5 L2161.6 903.0 L2164.2 911.7 L2167.0 920.3 L2169.9 929.0 L2173.0 937.6 L2176.2 946.2 L2179.6 954.7 L2183.4 963.6 L2187.6 972.7 L2192.0 981.8 L2196.3 990.5 L2200.4 998.7 L2204.0 1006.0 L2206.1 1010.2 L2208.0 1014.0 L2209.8 1017.6 L2211.5 1021.0 L2213.2 1024.4 L2215.0 1028.0"/>
<path stroke="#4c00ff" d="M293.5 1490.0 L295.8 1484.3 L298.1 1478.7 L300.4 1473.2 L302.8 1467.5 L305.1 1461.6 L307.6 1455.3 L311.0 1446.6 L314.6 1436.9 L318.3 1426.9 L321.9 1417.1 L325.2 1407.9 L327.9 1400.0 L329.2 1395.9 L330.3 1392.4 L331.3 1389.2 L332.2 1385.9 L333.2 1382.3 L334.4 1378.0 L336.9 1368.7 L339.7 1357.9 L342.7 1345.9 L345.7 1333.5 L348.6 1321.0 L351.2 1309.0 L353.5 1297.6 L355.5 1286.4 L357.4 1275.2 L359.3 1263.8 L361.1 1252.1 L363.0 1240.0 L365.2 1225.2 L367.4 1209.7 L369.6 1193.7 L371.7 1177.8 L373.8 1162.2 L375.9 1147.4 L377.6 1135.3 L379.3 1123.5 L381.0 1112.1 L382.6 1100.7 L384.3 1089.4 L385.9 1078.0 L387.6 1066.5 L389.2 1055.0 L390.9 1043.5 L392.6 1032.0 L394.2 1020.5 L395.8 1009.0 L397.4 997.6 L398.9 986.4 L400.4 975.1 L401.9 963.8 L403.4 952.1 L404.9 940.0 L406.7 925.2 L408.4 909.7 L410.2 893.7 L412.0 877.8 L413.6 862.2 L415.2 847.4 L416.4 835.3 L417.6 823.6 L418.7 812.2 L419.7 800.9 L420.9 789.6 L422.1 778.2 L423.5 766.7 L424.9 755.2 L426.4 743.6 L427.9 732.1 L429.3 720.6 L430.7 709.1 L432.0 697.7 L433.2 686.4 L434.4 675.2 L435.5 663.8 L436.7 652.1 L438.0 640.0 L439.6 625.2 L441.2 609.6 L442.9 593.7 L444.5 577.8 L446.2 562.2 L447.9 547.4 L449.3 535.3 L450.7 523.6 L452.1 512.2 L453.6 500.9 L455.0 489.6 L456.5 478.2 L458.0 466.7 L459.5 455.2 L461.1 443.6 L462.7 432.1 L464.3 420.6 L466.0 409.1 L467.8 397.4 L469.8 385.4 L471.7 373.4 L473.7 361.7 L475.5 350.5 L477.2 340.0 L478.3 332.6 L479.3 325.8 L480.2 319.2 L481.1 312.8 L482.1 306.1 L483.2 299.2 L484.6 290.8 L486.2 282.0 L487.8 273.0 L489.5 264.1 L491.2 255.5 L493.0 247.4 L494.5 241.1 L496.0 235.1 L497.6 229.3 L499.2 223.6 L500.7 218.1 L502.2 212.8 L503.3 208.4 L504.4 204.0 L505.4 199.7 L506.5 195.6 L507.7 191.9 L509.0 188.6 L510.0 186.6 L511.0 184.7 L512.0 183.0 L513.1 181.5 L514.2 180.2 L515.5 179.0 L516.6 178.2 L517.9 177.5 L519.1 176.9 L520.4 176.4 L521.7 176.1 L523.0 176.0 L524.2 176.0 L525.4 176.2 L526.6 176.5 L527.7 176.9 L528.9 177.4 L530.0 178.0 L531.2 178.6 L532.3 179.4 L533.4 180.2 L534.5 181.1 L535.6 182.2 L536.8 183.4 L539.0 186.1 L541.3 189.4 L543.6 193.1 L546.0 197.0 L548.4 200.7 L550.6 204.2 L552.4 207.0 L554.0 209.9 L555.6 212.7 L557.3 215.3 L559.0 217.7 L561.0 219.7 L562.8 221.2 L564.7 222.6 L566.8 223.8 L568.8 224.7 L570.9 225.3 L573.0 225.4 L575.6 224.8 L578.3 223.5 L581.0 221.7 L583.7 219.4 L586.3 217.0 L588.6 214.5 L591.0 211.4 L593.1 207.9 L595.1 204.1 L597.0 200.1 L598.8 196.0 L600.7 192.0 L602.8 187.6 L604.8 183.0 L606.8 178.3 L608.8 173.6 L610.8 168.9 L612.8 164.4 L614.7 160.2 L616.7 156.0 L618.6 151.9 L620.6 147.9 L622.7 144.0 L624.9 140.2 L627.1 136.6 L629.4 133.0 L631.8 129.4 L634.1 126.2 L636.5 123.4 L638.7 121.2 L639.9 120.3 L641.2 119.5 L642.4 119.0 L643.6 118.5 L644.8 118.1 L646.0 117.8 L647.2 117.5 L648.4 117.3 L649.7 117.2 L650.9 117.1 L652.2 117.1 L653.4 117.2 L654.7 117.4 L655.9 117.6 L657.2 118.0 L658.5 118.4 L659.7 118.9 L661.0 119.5 L662.5 120.3 L664.0 121.2 L665.4 122.3 L666.9 123.5 L668.4 124.9 L669.8 126.4 L671.9 129.1 L673.9 132.2 L675.9 135.7 L677.9 139.5 L679.9 143.3 L681.9 147.1 L684.2 151.5 L686.5 156.1 L688.7 160.8 L691.0 165.6 L693.3 170.3 L695.7 174.8 L698.0 179.1 L700.4 183.4 L702.7 187.7 L705.1 191.8 L707.4 195.6 L709.6 199.0 L711.1 201.1 L712.5 203.1 L713.9 204.9 L715.2 206.7 L716.6 208.3 L718.0 210.0 L719.3 211.5 L720.6 212.9 L722.0 214.2 L723.3 215.6 L724.6 216.9 L725.9 218.2 L727.1 219.5 L728.2 220.8 L729.4 222.1 L730.5 223.3 L731.7 224.5 L733.0 225.5 L734.3 226.4 L735.7 227.3 L737.2 228.2 L738.6 228.8 L740.1 229.3 L741.5 229.5 L742.8 229.4 L744.1 229.1 L745.3 228.6 L746.6 228.0 L747.8 227.3 L749.0 226.5 L750.4 225.5 L751.7 224.3 L753.0 223.0 L754.3 221.5 L755.7 219.9 L757.0 218.2 L759.0 215.4 L761.0 212.2 L763.1 208.7 L765.1 205.1 L767.1 201.3 L769.1 197.5 L771.2 193.2 L773.2 188.6 L775.2 183.9 L777.2 179.2 L779.2 174.5 L781.2 169.9 L783.2 165.5 L785.1 161.1 L787.1 156.7 L789.1 152.3 L791.1 148.1 L793.3 143.9 L795.4 139.9 L797.6 135.9 L799.9 132.0 L802.2 128.2 L804.6 124.7 L807.1 121.5 L809.3 119.0 L811.7 116.7 L814.1 114.5 L816.5 112.5 L818.8 110.8 L821.0 109.4 L822.4 108.6 L823.8 108.0 L825.1 107.5 L826.4 107.1 L827.7 106.8 L829.0 106.5 L830.3 106.3 L831.5 106.1 L832.8 105.9 L834.0 105.8 L835.3 105.8 L836.5 105.9 L837.8 106.0 L839.0 106.3 L840.3 106.5 L841.5 106.9 L842.8 107.3 L844.0 107.8 L845.4 108.4 L846.7 109.0 L848.1 109.7 L849.4 110.6 L850.7 111.6 L852.0 112.8 L854.0 115.3 L856.0 118.4 L858.0 122.0 L859.9 125.8 L861.8 129.7 L863.5 133.6 L865.3 137.9 L867.0 142.4 L868.6 147.0 L870.1 151.6 L871.5 156.2 L873.0 160.5 L874.2 164.0 L875.4 167.4 L876.6 170.6 L877.7 173.9 L878.9 177.4 L880.0 181.0 L881.3 185.8 L882.6 190.9 L883.9 196.1 L885.2 201.5 L886.6 206.7 L888.0 211.8 L889.4 216.5 L890.9 221.2 L892.5 225.8 L894.0 230.3 L895.5 234.8 L897.0 239.0 L898.2 242.4 L899.4 245.7 L900.5 248.9 L901.6 252.1 L902.8 255.2 L904.0 258.5 L905.3 262.0 L906.6 265.6 L907.9 269.3 L909.2 272.9 L910.6 276.5 L912.0 280.0 L913.4 283.4 L914.9 286.9 L916.5 290.3 L918.0 293.7 L919.5 296.8 L921.0 299.7 L922.0 301.6 L923.0 303.4 L924.0 305.1 L924.9 306.8 L925.9 308.4 L927.0 310.0 L928.1 311.7 L929.2 313.3 L930.3 315.0 L931.4 316.6 L932.7 318.1 L934.0 319.5 L935.4 320.8 L936.9 322.2 L938.5 323.4 L940.2 324.5 L941.8 325.2 L943.5 325.5 L945.4 325.2 L947.4 324.4 L949.4 323.2 L951.3 321.7 L953.2 320.1 L955.0 318.5 L956.7 316.8 L958.2 314.9 L959.6 312.8 L961.0 310.6 L962.5 308.4 L964.0 306.0 L966.1 302.9 L968.3 299.5 L970.5 296.0 L972.7 292.4 L975.0 288.6 L977.3 284.6 L980.2 279.4 L983.2 273.8 L986.2 267.9 L989.2 261.9 L992.0 255.9 L994.6 250.0 L996.9 244.3 L999.0 238.6 L1000.9 232.8 L1002.8 227.0 L1004.7 221.3 L1006.7 215.5 L1008.7 209.8 L1010.7 204.0 L1012.8 198.3 L1014.8 192.5 L1016.8 186.8 L1018.8 181.0 L1020.8 175.2 L1022.7 169.2 L1024.6 163.3 L1026.6 157.5 L1028.7 151.8 L1030.9 146.4 L1033.0 141.7 L1035.2 137.0 L1037.4 132.5 L1039.7 128.2 L1042.2 124.2 L1044.7 120.5 L1046.9 117.7 L1049.2 115.0 L1051.6 112.5 L1054.0 110.3 L1056.3 108.3 L1058.5 106.7 L1059.8 105.9 L1061.1 105.2 L1062.3 104.6 L1063.5 104.1 L1064.7 103.7 L1066.0 103.3 L1067.3 103.0 L1068.6 102.7 L1070.0 102.5 L1071.3 102.3 L1072.7 102.3 L1074.0 102.3 L1075.3 102.5 L1076.7 102.7 L1078.0 103.0 L1079.3 103.5 L1080.7 104.0 L1082.0 104.5 L1083.5 105.2 L1085.1 105.9 L1086.6 106.7 L1088.1 107.6 L1089.7 108.7 L1091.3 110.0 L1093.8 112.4 L1096.3 115.3 L1099.0 118.6 L1101.6 122.0 L1104.3 125.6 L1106.9 129.0 L1109.7 132.7 L1112.6 136.4 L1115.5 140.2 L1118.4 144.1 L1121.3 147.9 L1124.2 151.6 L1127.0 155.2 L1129.9 158.7 L1132.7 162.3 L1135.5 165.7 L1138.4 169.1 L1141.4 172.3 L1144.2 175.2 L1147.1 178.1 L1150.1 180.8 L1153.0 183.4 L1155.9 185.8 L1158.7 187.9 L1160.8 189.3 L1162.9 190.6 L1164.9 191.7 L1166.9 192.7 L1168.9 193.7 L1171.0 194.5 L1173.0 195.2 L1174.9 195.8 L1176.9 196.4 L1178.9 196.8 L1180.9 197.2 L1183.0 197.4 L1185.3 197.5 L1187.6 197.5 L1189.9 197.4 L1192.3 197.1 L1194.7 196.8 L1197.0 196.5 L1199.2 196.1 L1201.4 195.7 L1203.6 195.2 L1205.8 194.6 L1208.1 193.9 L1210.6 193.0 L1214.5 191.3 L1218.9 189.2 L1223.4 186.8 L1228.0 184.3 L1232.4 181.7 L1236.5 179.2 L1239.8 177.1 L1243.0 175.1 L1246.1 173.0 L1249.1 170.8 L1252.1 168.5 L1255.0 166.0 L1258.1 162.9 L1261.2 159.6 L1264.1 156.1 L1267.1 152.5 L1270.2 148.9 L1273.4 145.5 L1277.0 141.8 L1280.7 138.0 L1284.5 134.2 L1288.5 130.5 L1292.6 127.2 L1297.0 124.4 L1301.8 122.0 L1307.0 120.0 L1312.3 118.4 L1317.6 117.0 L1322.6 115.9 L1327.0 115.0 L1329.4 114.6 L1331.6 114.4 L1333.7 114.2 L1335.7 114.2 L1337.8 114.1 L1340.0 114.1 L1342.7 114.0 L1345.6 113.9 L1348.6 113.8 L1351.5 113.8 L1354.4 114.0 L1357.0 114.3 L1359.0 114.7 L1360.9 115.2 L1362.7 115.8 L1364.5 116.5 L1366.2 117.2 L1368.0 118.0 L1369.9 118.9 L1371.7 119.8 L1373.5 120.9 L1375.3 122.0 L1377.3 123.2 L1379.4 124.6 L1383.2 127.1 L1387.3 130.1 L1391.8 133.4 L1396.4 136.8 L1401.1 140.0 L1405.6 143.0 L1410.0 145.7 L1414.4 148.4 L1418.9 151.0 L1423.3 153.4 L1427.7 155.6 L1431.9 157.4 L1435.3 158.6 L1438.6 159.6 L1441.8 160.4 L1445.1 161.1 L1448.3 161.6 L1451.6 162.0 L1454.9 162.2 L1458.2 162.3 L1461.4 162.1 L1464.7 161.9 L1468.0 161.7 L1471.3 161.4 L1474.6 161.2 L1477.9 160.9 L1481.2 160.6 L1484.5 160.2 L1487.8 159.6 L1491.0 158.8 L1494.3 157.7 L1497.5 156.4 L1500.7 154.9 L1504.0 153.3 L1507.2 151.5 L1510.6 149.6 L1514.8 147.0 L1519.2 144.1 L1523.6 141.0 L1528.1 137.8 L1532.5 134.5 L1536.9 131.2 L1541.3 127.8 L1545.6 124.2 L1549.9 120.6 L1554.2 116.9 L1558.6 113.5 L1563.0 110.2 L1567.4 107.2 L1571.8 104.3 L1576.3 101.4 L1580.8 98.8 L1585.1 96.4 L1589.4 94.4 L1592.7 93.0 L1595.9 91.7 L1599.0 90.6 L1602.1 89.7 L1605.3 89.0 L1608.7 88.5 L1612.8 88.2 L1617.0 88.2 L1621.3 88.4 L1625.7 88.9 L1630.1 89.6 L1634.4 90.4 L1638.6 91.6 L1642.8 93.1 L1646.9 94.8 L1651.0 96.5 L1655.4 98.3 L1660.0 99.8 L1666.3 101.3 L1673.1 102.5 L1680.2 103.6 L1687.2 104.8 L1693.9 106.3 L1700.0 108.4 L1704.5 110.6 L1708.7 113.2 L1712.6 116.0 L1716.4 118.9 L1720.2 121.8 L1724.2 124.5 L1728.2 127.1 L1732.2 129.7 L1736.2 132.3 L1740.2 134.8 L1744.3 137.1 L1748.4 139.0 L1752.4 140.6 L1756.4 142.1 L1760.4 143.4 L1764.5 144.4 L1768.5 145.2 L1772.6 145.5 L1776.6 145.4 L1780.7 144.9 L1784.7 144.1 L1788.8 143.1 L1792.8 141.9 L1796.8 140.6 L1800.9 139.1 L1805.0 137.2 L1809.0 135.2 L1813.1 133.1 L1817.1 131.2 L1821.0 129.4 L1824.6 127.9 L1828.1 126.4 L1831.6 125.0 L1835.1 123.7 L1838.5 122.7 L1842.0 122.0 L1845.3 121.6 L1848.6 121.5 L1851.8 121.5 L1855.1 121.8 L1858.2 122.2 L1861.3 122.9 L1864.1 123.8 L1866.7 125.0 L1869.3 126.3 L1871.9 127.8 L1874.6 129.4 L1877.4 131.0 L1881.2 133.1 L1885.2 135.5 L1889.4 138.0 L1893.6 140.5 L1897.7 143.0 L1901.6 145.5 L1905.0 147.6 L1908.5 149.6 L1911.8 151.6 L1915.1 153.7 L1918.2 155.9 L1921.0 158.4 L1923.5 161.0 L1925.9 163.7 L1928.1 166.6 L1930.1 169.6 L1932.1 172.7 L1933.9 176.0 L1935.8 179.9 L1937.5 184.1 L1939.1 188.4 L1940.5 192.9 L1942.0 197.4 L1943.5 202.0 L1945.2 207.1 L1946.8 212.4 L1948.4 217.8 L1950.0 223.2 L1951.6 228.7 L1953.2 234.2 L1954.8 240.0 L1956.4 245.8 L1958.0 251.7 L1959.6 257.6 L1961.2 263.6 L1962.9 269.7 L1964.8 276.3 L1966.8 283.1 L1968.9 290.0 L1970.9 296.9 L1972.7 303.6 L1974.2 310.0 L1975.2 315.1 L1975.8 319.9 L1976.4 324.5 L1977.0 329.3 L1977.7 334.4 L1978.7 340.0 L1980.9 349.9 L1983.6 360.9 L1986.7 372.7 L1989.9 384.9 L1993.1 397.2 L1996.0 409.0 L1998.7 420.5 L2001.3 432.0 L2003.9 443.6 L2006.5 455.1 L2009.0 466.7 L2011.5 478.2 L2014.0 489.6 L2016.4 500.9 L2018.8 512.2 L2021.2 523.6 L2023.6 535.3 L2026.2 547.4 L2029.2 562.1 L2032.3 577.5 L2035.5 593.3 L2038.8 609.2 L2042.3 624.8 L2046.0 640.0 L2049.9 653.9 L2054.0 667.5 L2058.3 680.9 L2062.7 694.3 L2067.0 707.6 L2071.0 721.0 L2074.7 734.5 L2078.3 748.4 L2081.7 762.3 L2085.1 775.8 L2088.5 788.5 L2092.0 800.0 L2094.5 807.3 L2096.9 814.0 L2099.3 820.3 L2101.8 826.4 L2104.3 832.5 L2107.0 838.7 L2109.8 845.1 L2112.7 851.6 L2115.7 858.0 L2118.8 864.3 L2122.0 870.7 L2125.5 877.0 L2129.4 883.6 L2133.4 890.3 L2137.7 896.9 L2142.1 903.5 L2146.5 909.9 L2151.0 916.0 L2155.2 921.5 L2159.5 926.7 L2163.8 931.8 L2168.2 936.9 L2172.6 941.9 L2177.0 947.0 L2181.6 952.4 L2186.4 957.9 L2191.2 963.4 L2195.8 968.8 L2200.2 973.7 L2204.0 978.0 L2206.1 980.3 L2208.0 982.4 L2209.8 984.4 L2211.5 986.2 L2213.2 988.1 L2215.0 990.0"/>
</g>
<g font-family="'Liberation Serif','Times New Roman',serif" font-weight="bold" fill="#000" style="font-kerning:none" font-kerning="none">
<text x="272.5" y="98.2" font-size="88.5" text-anchor="end">1.0</text>
<text x="272.5" y="406.0" font-size="88.5" text-anchor="end">0.8</text>
<text x="272.5" y="713.8" font-size="88.5" text-anchor="end">0.6</text>
<text x="272.5" y="1021.6" font-size="88.5" text-anchor="end">0.4</text>
<text x="272.5" y="1329.4" font-size="88.5" text-anchor="end">0.2</text>
<text x="272.5" y="1637.2" font-size="88.5" text-anchor="end">0.0</text>
<text x="415.8" y="1696.3" font-size="88.5" text-anchor="middle">0.5</text>
<text x="1011.9" y="1696.3" font-size="88.5" text-anchor="middle">1.0</text>
<text x="1607.9" y="1696.3" font-size="88.5" text-anchor="middle">1.5</text>
<text x="2204.0" y="1696.3" font-size="88.5" text-anchor="middle">2.0</text>
<text x="1360" y="1814.3" font-size="101" letter-spacing="0.6" text-anchor="middle">Frequency(THz)</text>
<text transform="translate(113,728) rotate(-90)" font-size="102" text-anchor="middle">Absorptivity</text>
</g>
</svg>
</body></html>
